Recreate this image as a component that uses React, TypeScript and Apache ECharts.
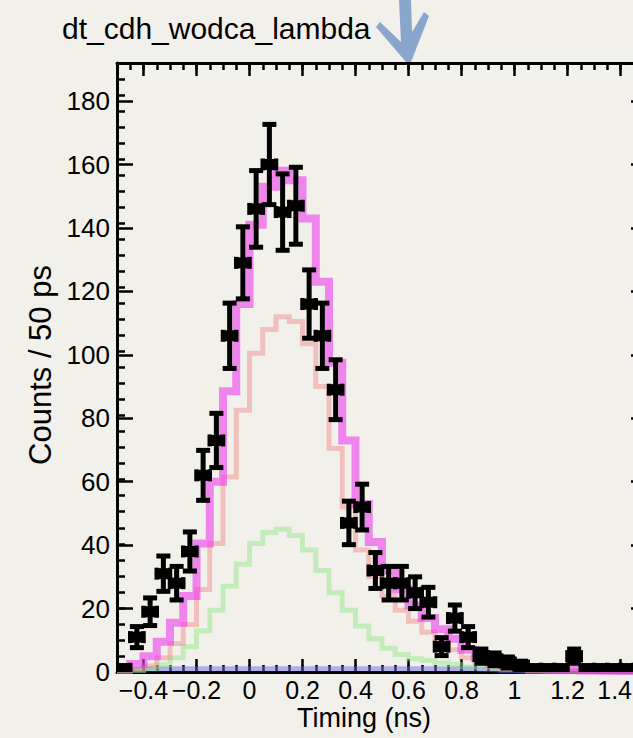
import React, { useEffect, useRef } from "react";
import * as echarts from "echarts";

// bin centres (ns), 50 ps bins from -0.5 to 1.5
const binCenters = [
  -0.475, -0.425, -0.375, -0.325, -0.275, -0.225, -0.175, -0.125, -0.075, -0.025,
  0.025, 0.075, 0.125, 0.175, 0.225, 0.275, 0.325, 0.375, 0.425, 0.475,
  0.525, 0.575, 0.625, 0.675, 0.725, 0.775, 0.825, 0.875, 0.925, 0.975,
  1.025, 1.075, 1.125, 1.175, 1.225, 1.275, 1.325, 1.375, 1.425, 1.475,
];
const binWidth = 0.05;

// measured counts
const dataCounts = [
  1, 11, 19, 31, 28, 38, 62, 73, 106, 129,
  146, 160, 145, 147, 116, 106, 89, 47, 52, 32,
  28, 28, 25, 22, 8, 17, 11, 5, 4, 3,
  2, 1, 1, 1, 5, 1, 1, 1, 1, 1,
];

// total template (magenta)
const totalFit = [
  1.5, 2.5, 5, 9.5, 15.5, 24, 40.5, 60, 88.5, 116,
  141, 153, 158, 155, 143, 123, 97.5, 73, 53, 41,
  32, 26, 21, 17, 13.5, 10.5, 7, 4.5, 3, 2.2,
  1.6, 1.2, 1, 0.8, 1.2, 0.5, 0.4, 0.3, 0.3, 0.2,
];

// component 1 (salmon)
const compSalmon = [
  0.3, 0.8, 2, 4.5, 9, 15, 26, 40.5, 61.5, 82.5,
  100.5, 108, 112, 110.5, 103.5, 90, 70.5, 52, 38.5, 30,
  24, 19.5, 16, 12.5, 9.5, 7, 4.5, 2.8, 1.8, 1.2,
  0.8, 0.5, 0.4, 0.3, 0.3, 0.2, 0.2, 0.2, 0.2, 0.2,
];

// component 2 (green)
const compGreen = [
  0.2, 0.5, 1, 2.3, 4.5, 8, 13, 19.5, 27, 34,
  40.5, 44, 45, 43, 38.5, 32, 25, 19.5, 14.5, 10.5,
  7.5, 5.5, 4.2, 3.6, 2.8, 2.4, 1.6, 1.4, 1.2, 0.8,
  0.7, 0.2, 0.1, 0.1, 0.1, 0.1, 0.1, 0.1, 0.1, 0.1,
];

// component 3 (blue, flat background)
const compBlue = [
  0.3, 0.6, 1, 1, 1, 1, 1, 1, 1, 1,
  1, 1, 1, 1, 1, 1, 1, 1, 1, 1,
  1, 1, 1, 1, 1, 1, 1, 0.9, 0.7, 0.4,
  0.3, 0.3, 0.2, 0.2, 0.2, 0.2, 0.2, 0.2, 0.2, 0.2,
];

const xTickValues = [-0.4, -0.2, 0, 0.2, 0.4, 0.6, 0.8, 1, 1.2, 1.4];
const xLabelValues = [-0.4, -0.2, 0, 0.2, 0.4, 0.6, 0.8, 1, 1.2];
const xEdgeLabel = "1.4";
const yTickValues = [0, 20, 40, 60, 80, 100, 120, 140, 160, 180];

const FONT = "'Liberation Sans', Arial, Helvetica, sans-serif";

function stepPoints(vals: number[]) {
  const n = binCenters.length;
  const pts: number[][] = [[binCenters[0] - binWidth / 2, vals[0]]];
  for (let i = 0; i < n; i++) pts.push([binCenters[i], vals[i]]);
  pts.push([binCenters[n - 1] + binWidth / 2, vals[n - 1]]);
  return pts;
}

function fmtX(v: number) {
  const s = String(Math.round(v * 10) / 10);
  return s.replace("-", "\u2212");
}

export default function App() {
  const ref = useRef<HTMLDivElement>(null);
  useEffect(() => {
    document.documentElement.style.overflow = "hidden";
    document.body.style.overflow = "hidden";
    if (!ref.current) return;
    const chart = echarts.init(ref.current, null, { renderer: "svg" });
    const xMin = -0.5, xMax = 1.5, yMin = 0, yMax = 192;
    const black = "#000";
    const majorX = (position: string, labels: boolean) => ({
      type: "value", min: xMin, max: xMax, position,
      axisLine: { show: true, onZero: false, lineStyle: { color: black, width: 3 } },
      axisTick: { show: true, inside: true, length: 13, customValues: xTickValues, lineStyle: { color: black, width: 2.5 } },
      axisLabel: labels
        ? { show: true, customValues: xLabelValues, formatter: fmtX, color: black, fontSize: 25, fontFamily: FONT, margin: 5 }
        : { show: false },
      splitLine: { show: false },
    });
    const minorX = (position: string) => ({
      type: "value", min: xMin, max: xMax, interval: 0.05, position,
      axisLine: { show: false, onZero: false },
      axisTick: { show: true, inside: true, length: 7, lineStyle: { color: black, width: 2.5 } },
      axisLabel: { show: false },
      splitLine: { show: false },
    });
    const majorY = (position: string, labels: boolean) => ({
      type: "value", min: yMin, max: yMax, position,
      axisLine: { show: true, onZero: false, lineStyle: { color: black, width: 3 } },
      axisTick: { show: true, inside: true, length: 16, customValues: yTickValues, lineStyle: { color: black, width: 2.5 } },
      axisLabel: labels
        ? { show: true, customValues: yTickValues, color: black, fontSize: 26, fontFamily: FONT, margin: 7 }
        : { show: false },
      splitLine: { show: false },
    });
    const minorY = (position: string) => ({
      type: "value", min: yMin, max: 190, interval: 5, position,
      axisLine: { show: false, onZero: false },
      axisTick: { show: true, inside: true, length: 8, lineStyle: { color: black, width: 2.5 } },
      axisLabel: { show: false },
      splitLine: { show: false },
    });

    const stepSeries = (name: string, vals: number[], color: string, width: number, z: number) => ({
      name, type: "line", step: "middle", xAxisIndex: 0, yAxisIndex: 0, z,
      data: stepPoints(vals), symbol: "none", clip: true,
      lineStyle: { color, width, join: "miter", cap: "butt" },
      silent: true,
    });

    chart.setOption({
      animation: false,
      backgroundColor: "#f2f0ea",
      grid: { left: 117, top: 63, width: 530, height: 609, containLabel: false },
      xAxis: [majorX("bottom", true), minorX("bottom"), majorX("top", false), minorX("top")],
      yAxis: [majorY("left", true), minorY("left"), majorY("right", false), minorY("right")],
      graphic: [
        {
          type: "text", left: 62, top: 13,
          style: { text: "dt_cdh_wodca_lambda", fontSize: 30, fontFamily: FONT, fill: black },
        },
        {
          type: "text", x: 40, y: 365, rotation: Math.PI / 2,
          style: { text: "Counts / 50 ps", fontSize: 31, fontFamily: FONT, fill: black, align: "center", verticalAlign: "middle" },
        },
        {
          type: "text", x: 364, y: 718,
          style: { text: "Timing (ns)", fontSize: 27, fontFamily: FONT, fill: black, align: "center", verticalAlign: "middle" },
        },
        {
          type: "text", x: 632, y: 677,
          style: { text: xEdgeLabel, fontSize: 25, fontFamily: FONT, fill: black, align: "right", verticalAlign: "top" },
        },
        {
          type: "polygon",
          shape: {
            points: [[399, 0], [411, 0], [412, 32], [424, 12], [429, 16], [411, 62], [406, 62], [376, 27], [380, 22], [401, 42]],
          },
          style: { fill: "rgba(112,148,196,0.8)" },
        },
      ],
      series: [
        stepSeries("bkg", compBlue, "rgba(110,110,230,0.5)", 5, 2),
        stepSeries("green", compGreen, "rgba(140,230,130,0.45)", 5, 3),
        stepSeries("salmon", compSalmon, "rgba(240,125,125,0.42)", 5, 4),
        stepSeries("total", totalFit, "rgba(238,60,238,0.6)", 8, 5),
        {
          name: "data", type: "custom", xAxisIndex: 0, yAxisIndex: 0, clip: true, z: 20,
          data: binCenters.map((c, i) => [c, dataCounts[i]]),
          renderItem: (params: any, api: any) => {
            const x = api.value(0);
            const y = api.value(1);
            const e = Math.sqrt(y);
            const c = api.coord([x, y]);
            const top = api.coord([x, y + e]);
            const bot = api.coord([x, Math.max(0, y - e)]);
            const l = api.coord([x - binWidth / 2, y]);
            const r = api.coord([x + binWidth / 2, y]);
            const st = { stroke: "#000", lineWidth: 5 };
            const children: any[] = [
              { type: "line", shape: { x1: c[0], y1: top[1], x2: c[0], y2: bot[1] }, style: st },
              { type: "line", shape: { x1: c[0] - 7, y1: top[1], x2: c[0] + 7, y2: top[1] }, style: st },
              { type: "line", shape: { x1: c[0] - 7, y1: bot[1], x2: c[0] + 7, y2: bot[1] }, style: st },
              { type: "line", shape: { x1: l[0], y1: c[1], x2: r[0], y2: c[1] }, style: st },
              { type: "line", shape: { x1: l[0], y1: c[1] - 6, x2: l[0], y2: c[1] + 6 }, style: { stroke: "#000", lineWidth: 4.5 } },
              { type: "line", shape: { x1: r[0], y1: c[1] - 6, x2: r[0], y2: c[1] + 6 }, style: { stroke: "#000", lineWidth: 4.5 } },
              { type: "rect", shape: { x: c[0] - 5.5, y: c[1] - 5.5, width: 11, height: 11 }, style: { fill: "#000" } },
            ];
            return { type: "group", children };
          },
        },
      ],
    });
    return () => chart.dispose();
  }, []);
  return (
    <div
      ref={ref}
      style={{ position: "fixed", left: 0, top: 0, width: 660, height: 738 }}
    />
  );
}
